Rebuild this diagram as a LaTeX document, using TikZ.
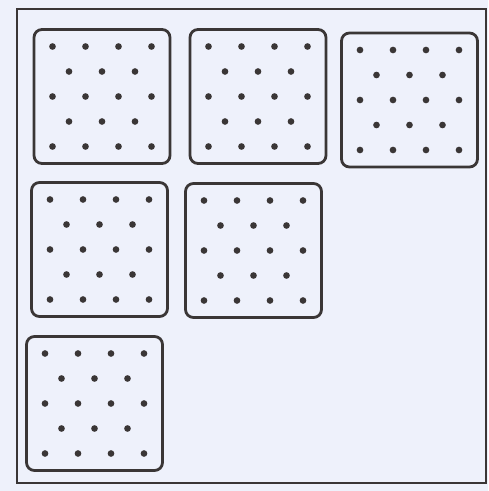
\documentclass[tikz,border=0pt]{standalone}
\usepackage{tikz}
\usetikzlibrary{positioning}
\definecolor{ink}{RGB}{58,54,54}
\definecolor{paper}{RGB}{238,241,251}

\begin{document}
\begin{tikzpicture}[x=0.02cm, y=-0.02cm,
    card/.style={draw=ink, line width=1.6pt, rounded corners=4.5pt,
                 minimum width=2.72cm, minimum height=2.68cm, inner sep=0pt},
    frame/.style={draw=ink, line width=1.1pt},
    dot/.style={circle, fill=ink, inner sep=0pt, minimum size=3.8pt}
  ]
  \fill[paper] (0,0) rectangle (488,491);
  \useasboundingbox (0,0) rectangle (488,491);

  % outer frame
  \draw[frame] (17,9) rectangle (486,483);

  % dot cards
  \foreach \n/\cx/\cy in {1/102/96.5, 2/258/96.5, 3/409.5/100,
                          4/99.5/249.5, 5/253.5/250.5, 6/94.5/403.5} {
    \node[card] (c\n) at (\cx,\cy) {};
    % rows of four
    \foreach \dy in {-50,0,50} {
      \foreach \dx in {-49.5,-16.5,16.5,49.5} {
        \node[dot] at (\cx+\dx,\cy+\dy) {};
      }
    }
    % rows of three
    \foreach \dy in {-25,25} {
      \foreach \dx in {-33,0,33} {
        \node[dot] at (\cx+\dx,\cy+\dy) {};
      }
    }
  }
\end{tikzpicture}
\end{document}
